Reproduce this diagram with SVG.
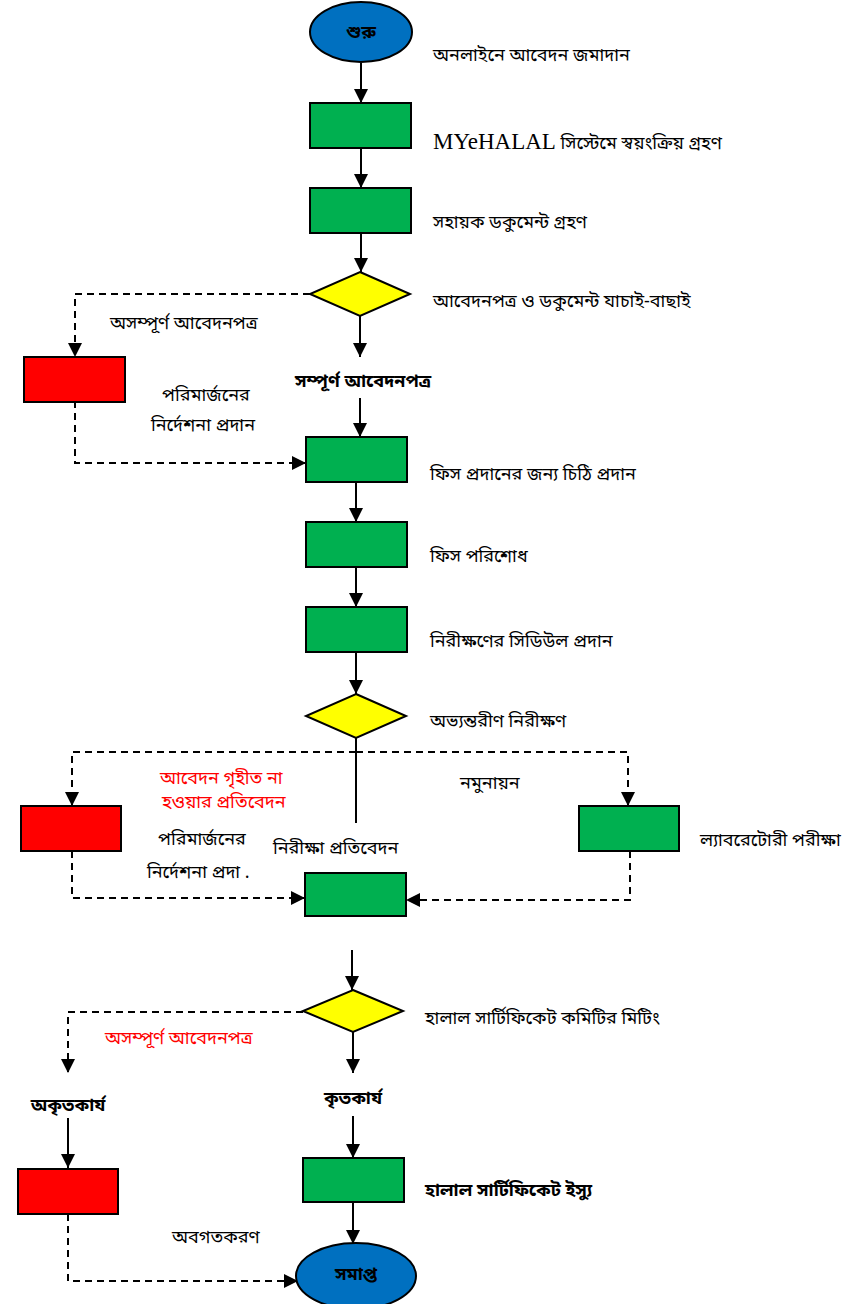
<svg xmlns="http://www.w3.org/2000/svg" width="865" height="1304" viewBox="0 0 865 1304">
<style>
.t{font-family:"Noto Sans Bengali","Noto Sans",sans-serif;font-size:18px;fill:#000}
.b{font-weight:bold}
.r{fill:#ff0000}
.c{text-anchor:middle}
.g{fill:#00B050;stroke:#000;stroke-width:2}
.rd{fill:#ff0000;stroke:#000;stroke-width:2}
.y{fill:#ffff00;stroke:#000;stroke-width:2}
.bl{fill:#0070C0;stroke:#000;stroke-width:2}
.ln{fill:none;stroke:#000;stroke-width:2}
.ds{fill:none;stroke:#000;stroke-width:2;stroke-dasharray:7,5}
.ar{marker-end:url(#ah)}
</style>
<defs>
<marker id="ah" markerUnits="userSpaceOnUse" markerWidth="14" markerHeight="14" refX="14" refY="7" orient="auto">
<path d="M0,0 L14,7 L0,14 z" fill="#000"/>
</marker>
</defs>
<rect width="865" height="1304" fill="#fff"/>
<g id="connectors">
<path class="ln ar" d="M361,63 V103"/>
<path class="ln ar" d="M361,148 V188"/>
<path class="ln ar" d="M361,233 V272"/>
<path class="ln ar" d="M360,316 V357"/>
<path class="ds ar" d="M310,294 H75 V357"/>
<path class="ln ar" d="M360,398 V437"/>
<path class="ds ar" d="M75,401 V463 H306"/>
<path class="ln ar" d="M356,482 V522"/>
<path class="ln ar" d="M356,567 V607"/>
<path class="ln ar" d="M356,652 V694"/>
<path class="ln" d="M356,737 V823"/>
<path class="ds ar" d="M356,752 H72 V806"/>
<path class="ds ar" d="M356,752 H628 V806"/>
<path class="ds ar" d="M72,851 V898 H305"/>
<path class="ds ar" d="M630,851 V900 H406"/>
<path class="ln ar" d="M352,950 V990"/>
<path class="ds ar" d="M303,1012 H68 V1073"/>
<path class="ln ar" d="M353,1032 V1073"/>
<path class="ln ar" d="M68,1118 V1168"/>
<path class="ln ar" d="M353,1116 V1158"/>
<path class="ln ar" d="M353,1202 V1244"/>
<path class="ds ar" d="M68,1214 V1281 H298"/>
</g>
<g id="start"><ellipse class="bl" cx="361" cy="32" rx="51" ry="30"/><text class="t b c" x="361" y="38">শুরু</text></g>
<g id="n1"><rect class="g" x="310" y="103" width="101" height="45"/></g>
<g id="n2"><rect class="g" x="310" y="188" width="101" height="45"/></g>
<g id="d1"><polygon class="y" points="360,272 410,294 360,316 310,294"/></g>
<g id="red1"><rect class="rd" x="24" y="357" width="101" height="45"/></g>
<g id="n3"><rect class="g" x="306" y="437" width="101" height="45"/></g>
<g id="n4"><rect class="g" x="306" y="522" width="101" height="45"/></g>
<g id="n5"><rect class="g" x="306" y="607" width="101" height="45"/></g>
<g id="d2"><polygon class="y" points="356,694 406,716 356,738 306,716"/></g>
<g id="red2"><rect class="rd" x="21" y="806" width="100" height="45"/></g>
<g id="lab"><rect class="g" x="579" y="806" width="100" height="45"/></g>
<g id="n6"><rect class="g" x="305" y="873" width="101" height="43"/></g>
<g id="d3"><polygon class="y" points="353,990 403,1011 353,1032 303,1011"/></g>
<g id="red3"><rect class="rd" x="18" y="1169" width="100" height="45"/></g>
<g id="n7"><rect class="g" x="303" y="1158" width="101" height="44"/></g>
<g id="end"><ellipse class="bl" cx="356" cy="1276" rx="60" ry="33"/><text class="t b c" x="356" y="1280">সমাপ্ত</text></g>
<g id="labels">
<text class="t" x="433" y="61">অনলাইনে আবেদন জমাদান</text>
<text class="t" x="433" y="149"><tspan style="font-family:'Liberation Serif',serif;font-size:23px">MYeHALAL</tspan> সিস্টেমে স্বয়ংক্রিয় গ্রহণ</text>
<text class="t" x="433" y="228">সহায়ক ডকুমেন্ট গ্রহণ</text>
<text class="t" x="433" y="307">আবেদনপত্র ও ডকুমেন্ট যাচাই-বাছাই</text>
<text class="t" x="110" y="329">অসম্পূর্ণ আবেদনপত্র</text>
<text class="t b" x="295" y="387">সম্পূর্ণ আবেদনপত্র</text>
<text class="t" x="162" y="401">পরিমার্জনের</text>
<text class="t" x="151" y="431">নির্দেশনা প্রদান</text>
<text class="t" x="430" y="480">ফিস প্রদানের জন্য চিঠি প্রদান</text>
<text class="t" x="430" y="562">ফিস পরিশোধ</text>
<text class="t" x="430" y="647">নিরীক্ষণের সিডিউল প্রদান</text>
<text class="t" x="430" y="727">অভ্যন্তরীণ নিরীক্ষণ</text>
<text class="t r" x="160" y="784">আবেদন গৃহীত না</text>
<text class="t r" x="162" y="808">হওয়ার প্রতিবেদন</text>
<text class="t" x="460" y="789">নমুনায়ন</text>
<text class="t" x="700" y="846">ল্যাবরেটোরী পরীক্ষা</text>
<text class="t" x="158" y="845">পরিমার্জনের</text>
<text class="t" x="147" y="878">নির্দেশনা প্রদা .</text>
<text class="t" x="273" y="854">নিরীক্ষা প্রতিবেদন</text>
<text class="t" x="425" y="1024">হালাল সার্টিফিকেট কমিটির মিটিং</text>
<text class="t r" x="105" y="1044">অসম্পূর্ণ আবেদনপত্র</text>
<text class="t b c" x="353" y="1104">কৃতকার্য</text>
<text class="t b c" x="68" y="1111">অকৃতকার্য</text>
<text class="t b" x="425" y="1196">হালাল সার্টিফিকেট ইস্যু</text>
<text class="t" x="172" y="1243">অবগতকরণ</text>
</g>
</svg>
